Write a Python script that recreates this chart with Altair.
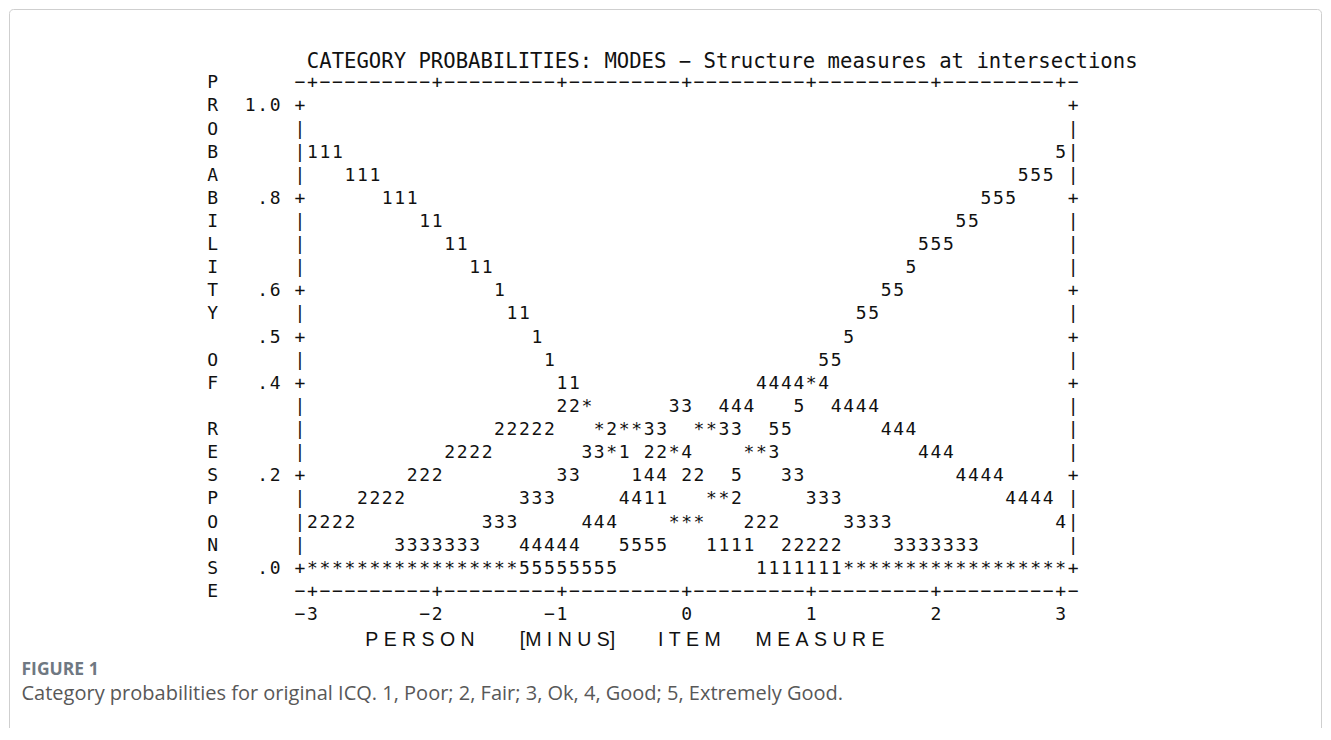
import altair as alt
import pandas as pd

# ---------------- text content ----------------
TITLE = "CATEGORY PROBABILITIES: MODES \u2212 Structure measures at intersections"
Y_TITLE = "PROBABILITY OF RESPONSE"          # written vertically, one letter per text row
X_TITLE_WORDS = ["PERSON", "[MINUS]", "ITEM", "MEASURE"]
FIG_LABEL = "FIGURE 1"
CAPTION = "Category probabilities for original ICQ. 1, Poor; 2, Fair; 3, Ok, 4, Good; 5, Extremely Good."

# y tick labels (probability)
Y_TICK_LABELS = ["1.0", ".8", ".6", ".5", ".4", ".2", ".0"]
Y_TICK_VALUES = [1.0, 0.8, 0.6, 0.5, 0.4, 0.2, 0.0]

# x tick labels (person minus item measure)
X_TICK_LABELS = ["\u22123", "\u22122", "\u22121", "0", "1", "2", "3"]
X_TICK_VALUES = [-3, -2, -1, 0, 1, 2, 3]

# curve characters per probability row (1.0 down to .0, step .05):
# (start column, characters)  -- columns run 0..62, column 31 = measure 0
CURVE_ROWS = [
    [],
    [],
    [(1, "111"), (61, "5")],
    [(4, "111"), (58, "555")],
    [(7, "111"), (55, "555")],
    [(10, "11"), (53, "55")],
    [(12, "11"), (50, "555")],
    [(14, "11"), (49, "5")],
    [(16, "1"), (47, "55")],
    [(17, "11"), (45, "55")],
    [(19, "1"), (44, "5")],
    [(20, "1"), (42, "55")],
    [(21, "11"), (37, "4444*4")],
    [(21, "22*"), (30, "33"), (34, "444"), (40, "5"), (43, "4444")],
    [(16, "22222"), (24, "*2**33"), (32, "**33"), (38, "55"), (47, "444")],
    [(12, "2222"), (23, "33*1"), (28, "22*4"), (36, "**3"), (50, "444")],
    [(9, "222"), (21, "33"), (27, "144"), (31, "22"), (35, "5"), (39, "33"), (53, "4444")],
    [(5, "2222"), (18, "333"), (26, "4411"), (33, "**2"), (41, "333"), (57, "4444")],
    [(1, "2222"), (15, "333"), (23, "444"), (30, "***"), (36, "222"), (44, "3333"), (61, "4")],
    [(8, "3333333"), (18, "44444"), (26, "5555"), (33, "1111"), (39, "22222"), (48, "3333333")],
    [(1, "*" * 17), (18, "5" * 8), (37, "1" * 7), (44, "*" * 18)],
]

# ---------------- layout of the character grid (pixels) ----------------
W, H = 1315, 720
CELL_W, CELL_H = 12.47, 23.12
ORIGIN_X, ORIGIN_Y = 292.0, 98.4     # chart position of column 0 / row 0
LEFT_COL, RIGHT_COL = 0, 62
ZERO_COL, COLS_PER_UNIT = 31, 10
ROWS_PER_UNIT = 20

# placement of the x title words (start column); letters are spaced out
X_TITLE_COLS = [5.23, 17.62, 28.7, 36.53]
LETTER_GAP = "\u00a0"


def px_to_col(px):
    return (px - 8 - ORIGIN_X) / CELL_W


def px_to_row(py):
    return (py - 8 - ORIGIN_Y) / CELL_H


def col_of(measure):
    return ZERO_COL + COLS_PER_UNIT * measure


def row_of(prob):
    return round((1.0 - prob) * ROWS_PER_UNIT)


def spaced(word, gap):
    # letters spaced out, brackets kept tight
    if word.startswith("[") and word.endswith("]"):
        return "[" + gap.join(list(word[1:-1])) + "]"
    return gap.join(list(word))


chars = []


def put(col, row, text):
    for i, ch in enumerate(text):
        if ch != " ":
            chars.append({"col": col + i, "row": row, "ch": ch})


n_rows = len(CURVE_ROWS)
tick_rows = {row_of(v) for v in Y_TICK_VALUES}
for r, segs in enumerate(CURVE_ROWS):
    border = "+" if r in tick_rows else "|"
    put(LEFT_COL, r, border)
    put(RIGHT_COL, r, border)
    for c, s in segs:
        put(c, r, s)

# horizontal axis lines above and below the plot
axis_line = "".join(
    "+" if (c - ZERO_COL) % COLS_PER_UNIT == 0 else "\u2212" for c in range(LEFT_COL, RIGHT_COL + 1)
)
put(LEFT_COL, -1, axis_line)
put(LEFT_COL, n_rows, axis_line)

# x tick labels, last character under the tick
for lab, v in zip(X_TICK_LABELS, X_TICK_VALUES):
    c = int(col_of(v))
    put(c - len(lab) + 1, n_rows + 1, lab)

# y tick labels, ending two columns left of the frame
for lab, v in zip(Y_TICK_LABELS, Y_TICK_VALUES):
    put(LEFT_COL - 1 - len(lab), row_of(v), lab)

# vertical y title
for i, ch in enumerate(Y_TITLE):
    put(LEFT_COL - 7, -1 + i, ch)

grid_df = pd.DataFrame(chars)

xs = alt.Scale(domain=[-ORIGIN_X / CELL_W, (W - ORIGIN_X) / CELL_W], nice=False, zero=False)
ys = alt.Scale(domain=[-ORIGIN_Y / CELL_H, (H - ORIGIN_Y) / CELL_H], nice=False, zero=False, reverse=True)
X = lambda f: alt.X(f, type="quantitative", scale=xs, axis=None)
Y = lambda f: alt.Y(f, type="quantitative", scale=ys, axis=None)

# figure frame (open at the bottom, runs off the page)
frame_df = pd.DataFrame([{
    "c1": px_to_col(9.5), "c2": px_to_col(1321.5),
    "r1": px_to_row(9.5), "r2": px_to_row(780),
}])
frame = alt.Chart(frame_df).mark_rect(
    fill=None, stroke="#cfcfcf", strokeWidth=1, cornerRadius=4
).encode(x=X("c1"), x2="c2", y=Y("r1"), y2="r2")

grid = alt.Chart(grid_df).mark_text(
    font="DejaVu Sans Mono", fontSize=18, color="#111111", align="center", baseline="middle"
).encode(x=X("col"), y=Y("row"), text="ch:N")

title_df = pd.DataFrame([{"col": 0.55, "row": -1.93, "t": TITLE}])
title = alt.Chart(title_df).mark_text(
    font="DejaVu Sans Mono", fontSize=20.6, color="#111111", align="left", baseline="middle"
).encode(x=X("col"), y=Y("row"), text="t:N")

xt_df = pd.DataFrame([
    {"col": c, "row": n_rows + 2.1, "t": spaced(w, LETTER_GAP)}
    for w, c in zip(X_TITLE_WORDS, X_TITLE_COLS)
])
xtitle = alt.Chart(xt_df).mark_text(
    font="Liberation Sans", fontSize=19.5, color="#111111", align="left", baseline="middle"
).encode(x=X("col"), y=Y("row"), text="t:N")

cap_df = pd.DataFrame([{"col": px_to_col(21.5), "row": px_to_row(670), "t": FIG_LABEL}])
figlabel = alt.Chart(cap_df).mark_text(
    font="Open Sans", fontSize=17.5, fontWeight="bold", color="#6f7882", align="left", baseline="middle"
).encode(x=X("col"), y=Y("row"), text="t:N")

cap2_df = pd.DataFrame([{"col": px_to_col(21.5), "row": px_to_row(694), "t": CAPTION}])
caption = alt.Chart(cap2_df).mark_text(
    font="Open Sans", fontSize=20, color="#585858", align="left", baseline="middle"
).encode(x=X("col"), y=Y("row"), text="t:N")

chart = alt.layer(frame, grid, title, xtitle, figlabel, caption).properties(
    width=W, height=H, autosize=alt.AutoSizeParams(type="none"), padding=0
).configure_view(stroke=None)

chart.save("out.html", embed_options={"renderer": "svg", "actions": False})
